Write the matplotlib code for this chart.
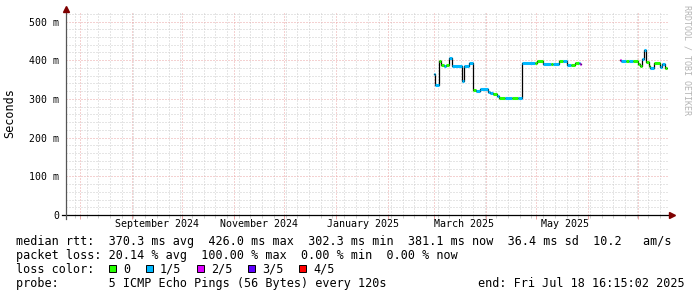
import numpy as np
import pandas as pd
import matplotlib
matplotlib.use("Agg")
import matplotlib.pyplot as plt
import matplotlib.dates as mdates
from matplotlib.patches import Rectangle
from matplotlib.ticker import MultipleLocator, NullFormatter

# median rtt steps (ms) and lost pings (of 5) per step
seg_time = ["2025-02-28 14:00", "2025-03-01 10:00", "2025-03-03 13:00", "2025-03-05 04:00",
            "2025-03-06 23:00", "2025-03-08 04:00", "2025-03-09 16:00", "2025-03-11 13:00",
            "2025-03-17 17:00", "2025-03-18 11:00", "2025-03-21 17:00", "2025-03-23 19:00",
            "2025-03-26 00:00", "2025-03-28 10:00", "2025-04-02 00:30", "2025-04-03 10:00",
            "2025-04-05 05:00", "2025-04-07 14:00", "2025-04-08 10:00", "2025-04-12 10:00",
            "2025-04-16 14:00", "2025-04-20 05:00", "2025-04-22 05:00", "2025-04-30 10:00",
            "2025-05-01 14:00", "2025-05-05 04:00", "2025-05-09 22:00", "2025-05-11 00:00",
            "2025-05-14 10:00", "2025-05-17 02:00", "2025-05-19 12:00", "2025-05-21 22:00",
            "2025-05-24 07:00", "2025-05-26 08:00", "2025-05-27 05:00", "2025-05-27 20:00",
            "2025-06-19 19:00", "2025-06-20 07:00", "2025-06-23 19:00", "2025-06-25 14:00",
            "2025-06-28 00:00", "2025-06-30 14:00", "2025-07-02 05:00", "2025-07-03 05:00",
            "2025-07-04 14:00", "2025-07-05 06:00", "2025-07-07 10:00", "2025-07-08 05:00",
            "2025-07-10 03:00", "2025-07-13 17:00", "2025-07-15 03:00", "2025-07-17 02:00"]
seg_rtt = [365, 337, 399, 388, 386, 387, 406, 385, 346, 385, 393, 323,
           321, 325, 317, 314, 313, 308, 303, 303, 303, 303, 393, 394,
           398, 389, 390, 389, 399, 398, 388, 388, 393, 392, 389, np.nan,
           400, 399, 399, 399, 399, 390, 385, 402, 426, 395, 386, 380,
           392, 382, 389, 381]
seg_loss = [1, 1, 0, 0, 1, 0, 1, 1, 1, 1, 1, 0,
            1, 1, 1, 1, 0, 1, 0, 1, 0, 1, 1, 0,
            0, 1, 0, 1, 0, 1, 1, 0, 0, 1, 2, 0,
            2, 1, 0, 1, 0, 0, 0, 1, 1, 0, 0, 1,
            0, 1, 1, 0]
data_end = "2025-07-18 04:00"

loss_labels = ["0", "1/5", "2/5", "3/5", "4/5"]
loss_colors = ["#26ff00", "#00b8ff", "#dd00ff", "#5e00ff", "#ff0000"]

label_dates = ["2024-09-16", "2024-11-16", "2025-01-17", "2025-03-18 12:00", "2025-05-18"]
label_text = ["September 2024", "November 2024", "January 2025", "March 2025", "May 2025"]

end_time = pd.Timestamp("2025-07-18 16:15:02")
start_time = end_time - pd.Timedelta(days=360)

mono = "DejaVu Sans Mono"
plt.rcParams['font.family'] = mono

W, H = 697, 297
fig = plt.figure(figsize=(W / 100, H / 100), dpi=100)
fig.patch.set_facecolor("white")

def fx(x):
    return x / W

def fy(y):
    return 1 - y / H

ax = fig.add_axes([fx(66), fy(215), fx(668) - fx(66), fy(13) - fy(215)])
ax.set_facecolor("white")
for s in ax.spines.values():
    s.set_visible(False)

ax.set_xlim(start_time, end_time)
ax.set_ylim(0, 522)

# grid
ax.xaxis.set_major_locator(mdates.MonthLocator())
ax.xaxis.set_minor_locator(mdates.WeekdayLocator(byweekday=mdates.MO))
ax.xaxis.set_major_formatter(NullFormatter())
ax.yaxis.set_major_locator(MultipleLocator(100))
ax.yaxis.set_minor_locator(MultipleLocator(20))
ax.set_yticks([0, 100, 200, 300, 400, 500])
ax.set_yticklabels(["0", "100 m", "200 m", "300 m", "400 m", "500 m"])
ax.grid(True, which="minor", color="#cdcdcd", linestyle=(0, (1, 2)), linewidth=0.72)
ax.grid(True, which="major", color="#eaa4a4", linestyle=(0, (1, 2)), linewidth=0.72)
ax.tick_params(axis="y", which="both", length=0, pad=5, labelsize=7.1)
ax.tick_params(axis="x", which="major", length=3, color="#eaa4a4", width=0.7, direction="out")
ax.tick_params(axis="x", which="minor", length=2, color="#cdcdcd", width=0.7, direction="out")
ax.set_axisbelow(True)

# axis lines + arrows
ax.plot([-4 / 602, 1 + 2 / 602], [0, 0], color="black", lw=0.9, transform=ax.transAxes,
        clip_on=False, zorder=5)
ax.plot([0, 0], [-4 / 202, 1 + 3 / 202], color="#555555", lw=0.9, transform=ax.transAxes,
        clip_on=False, zorder=5)
ax.plot([1 + 4 / 602], [0], marker=">", color="#7f0000", markersize=4.5, transform=ax.transAxes,
        clip_on=False, zorder=6)
ax.plot([0], [1 + 4 / 202], marker="^", color="#7f0000", markersize=4.5, transform=ax.transAxes,
        clip_on=False, zorder=6)

# data
t = pd.to_datetime(seg_time + [data_end])
v = np.array(seg_rtt + [seg_rtt[-1]], dtype=float)
ax.step(t, v, where="post", color="black", lw=0.9, zorder=3)
for i in range(len(seg_time)):
    if np.isnan(seg_rtt[i]):
        continue
    ax.hlines(seg_rtt[i], t[i], t[i + 1], color=loss_colors[seg_loss[i]], lw=2.2, zorder=4)

# month labels
for d, txt in zip(label_dates, label_text):
    ax.text(pd.Timestamp(d), -12 / 202, txt, transform=ax.get_xaxis_transform(),
            ha="center", va="baseline", fontsize=7.2, clip_on=False)

fig.text(fx(10), fy(113), "Seconds", rotation=90, ha="center", va="center", fontsize=8.5)
fig.text(fx(687), fy(60), "RRDTOOL / TOBI OETIKER", rotation=270, ha="center", va="center",
         fontsize=6, color="#b4b4b4")

# legend
fs = 8.45
fig.text(fx(16), fy(245.5),
         "median rtt:  370.3 ms avg  426.0 ms max  302.3 ms min  381.1 ms now  36.4 ms sd  10.2   am/s",
         fontsize=fs, va="baseline")
fig.text(fx(16), fy(259.5), "packet loss: 20.14 % avg  100.00 % max  0.00 % min  0.00 % now",
         fontsize=fs, va="baseline")
fig.text(fx(16), fy(273), "loss color:", fontsize=fs, va="baseline")
box_x = [109, 146, 197, 248, 299]
for bx, lab, col in zip(box_x, loss_labels, loss_colors):
    fig.patches.append(Rectangle((fx(bx), fy(272)), fx(7), fy(265) - fy(272), facecolor=col,
                                 edgecolor="black", lw=0.7, transform=fig.transFigure))
    fig.text(fx(bx + 14), fy(273), lab, fontsize=fs, va="baseline")
fig.text(fx(16), fy(287), "probe:       5 ICMP Echo Pings (56 Bytes) every 120s",
         fontsize=fs, va="baseline")
fig.text(fx(478), fy(287), "end: Fri Jul 18 16:15:02 2025", fontsize=fs, va="baseline")

fig.savefig("out.png", dpi=100, facecolor="white")
